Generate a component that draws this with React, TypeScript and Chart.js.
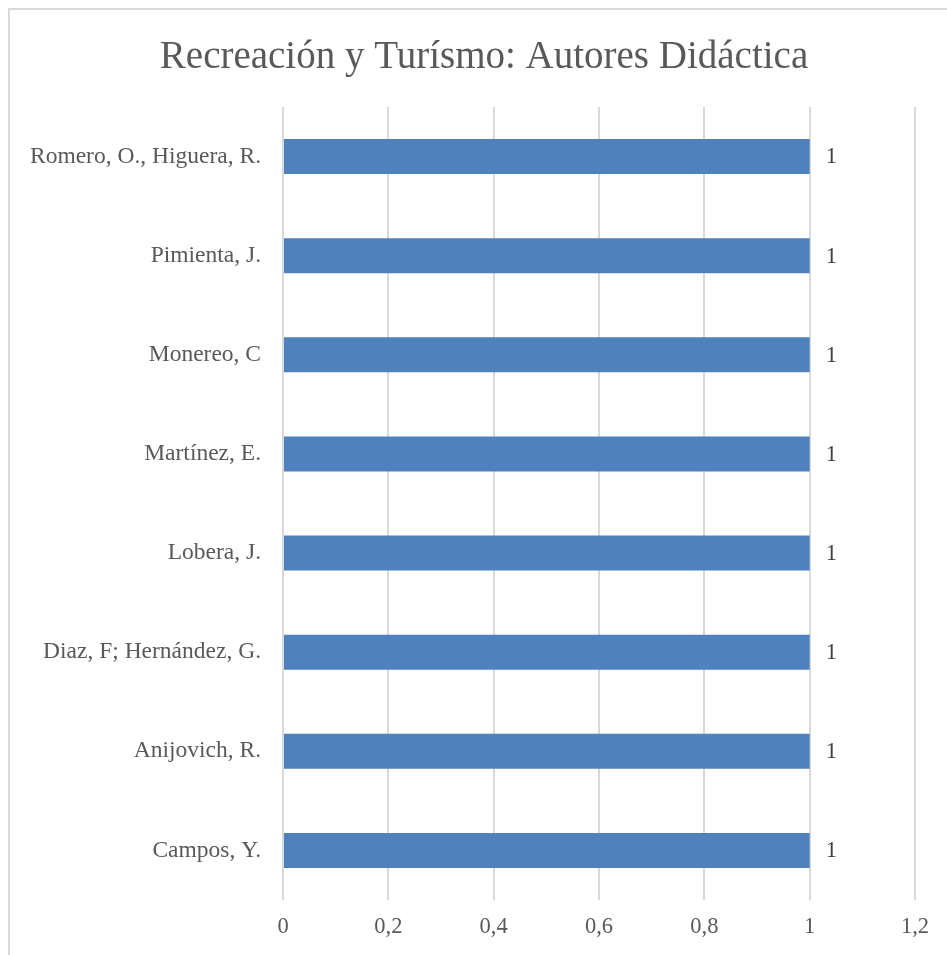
import React, { useEffect, useRef } from "react";
import { Chart, registerables } from "chart.js";

Chart.register(...registerables);

const TITLE = "Recreación y Turísmo: Autores Didáctica";
const categories = [
  "Romero, O., Higuera, R.",
  "Pimienta, J.",
  "Monereo, C",
  "Martínez, E.",
  "Lobera, J.",
  "Diaz, F; Hernández, G.",
  "Anijovich, R.",
  "Campos, Y.",
];
const values = [1, 1, 1, 1, 1, 1, 1, 1];
const xTicks = [0, 0.2, 0.4, 0.6, 0.8, 1, 1.2];

const FONT = "'Liberation Serif', 'Times New Roman', serif";
const TEXT = "#595959";
const GRID = "#D9D9D9";
const BAR = "#4F81BD";

const dataLabels = {
  id: "dataLabels",
  afterDatasetsDraw(chart: any) {
    const ctx = chart.ctx;
    const meta = chart.getDatasetMeta(0);
    ctx.save();
    ctx.font = `22.5px ${FONT}`;
    ctx.fillStyle = "#404040";
    ctx.textAlign = "left";
    ctx.textBaseline = "middle";
    meta.data.forEach((el: any, i: number) => {
      const v = chart.data.datasets[0].data[i];
      ctx.fillText(String(v).replace(".", ","), el.x + 16, el.y + 1);
    });
    ctx.restore();
  },
};

// Title centred on the full (uncropped) chart frame
const titlePlugin = {
  id: "frameTitle",
  afterDraw(chart: any) {
    const ctx = chart.ctx;
    ctx.save();
    ctx.font = `39px ${FONT}`;
    ctx.fillStyle = TEXT;
    ctx.textAlign = "center";
    ctx.textBaseline = "middle";
    ctx.fillText(TITLE, 484, 58);
    ctx.restore();
  },
};

export default function App() {
  const ref = useRef<HTMLCanvasElement>(null);
  useEffect(() => {
    const canvas = ref.current!;
    const chart = new Chart(canvas, {
      type: "bar",
      data: {
        labels: categories,
        datasets: [
          {
            data: values,
            backgroundColor: BAR,
            borderWidth: 0,
            categoryPercentage: 1,
            barPercentage: 0.353,
          },
        ],
      },
      options: {
        indexAxis: "y",
        responsive: false,
        animation: false,
        layout: { padding: { left: 0, right: 32, top: 107, bottom: 0 } },
        plugins: {
          legend: { display: false },
          tooltip: { enabled: false },
          title: { display: false },
        },
        scales: {
          x: {
            min: 0,
            max: 1.2,
            afterBuildTicks(scale: any) {
              scale.ticks = xTicks.map((v) => ({ value: v }));
            },
            afterFit(scale: any) {
              scale.height = 55;
            },
            grid: { color: GRID, lineWidth: 2, drawTicks: false },
            border: { display: false },
            ticks: {
              color: TEXT,
              font: { family: FONT, size: 22.5 },
              padding: 14,
              callback: (v: any) => String(Math.round(Number(v) * 10) / 10).replace(".", ","),
            },
          },
          y: {
            afterFit(scale: any) {
              scale.width = 283;
            },
            grid: { display: false, drawTicks: false },
            border: { display: false },
            ticks: {
              color: TEXT,
              font: { family: FONT, size: 23.5 },
              padding: 22,
            },
          },
        },
      },
      plugins: [dataLabels, titlePlugin],
    });
    return () => chart.destroy();
  }, []);
  return (
    <div
      style={{
        position: "absolute",
        left: 0,
        top: 0,
        width: 947,
        height: 955,
        overflow: "hidden",
        background: "#fff",
      }}
    >
      <div
        style={{
          position: "absolute",
          left: 8,
          top: 8,
          width: 1000,
          height: 1000,
          borderTop: `2px solid ${GRID}`,
          borderLeft: `2px solid ${GRID}`,
        }}
      />
      <canvas ref={ref} width={947} height={955} style={{ position: "absolute", left: 0, top: 0 }} />
    </div>
  );
}
